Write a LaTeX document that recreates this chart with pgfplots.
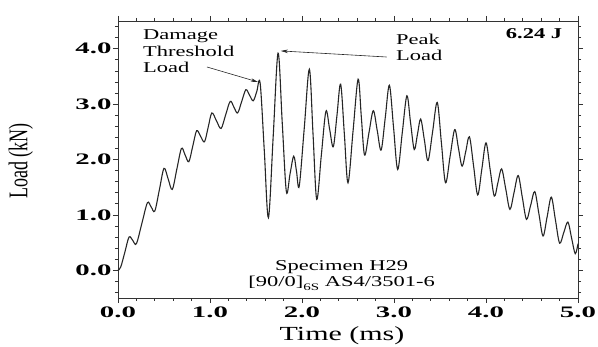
\documentclass[border=0pt]{standalone}
\usepackage{pgfplots}
\pgfplotsset{compat=1.18}
\usetikzlibrary{arrows.meta}
\usepackage{fontspec}
\setmainfont{Liberation Serif}
\newcommand{\sx}[1]{\scalebox{1.5}[1]{#1}}
\newcommand{\tk}[1]{\scalebox{1.8}[1]{\fontsize{16}{18}\selectfont\bfseries #1}}
\pgfplotstableread{
t L
0.00 0.00
0.03 0.06
0.075 0.33
0.12 0.60
0.16 0.54
0.20 0.48
0.26 0.85
0.32 1.22
0.36 1.145
0.40 1.07
0.45 1.455
0.50 1.84
0.545 1.65
0.59 1.46
0.64 1.83
0.69 2.20
0.73 2.08
0.77 1.96
0.8125 2.24
0.855 2.52
0.8975 2.42
0.94 2.32
0.98 2.58
1.02 2.84
1.07 2.70
1.12 2.56
1.17 2.805
1.22 3.05
1.26 2.945
1.30 2.84
1.345 3.05
1.39 3.26
1.43 3.16
1.47 3.06
1.5075 3.22
1.545 3.38
1.59 2.165
1.635 0.95
1.6875 2.435
1.74 3.92
1.785 2.67
1.83 1.42
1.87 1.74
1.91 2.06
1.94 1.79
1.97 1.52
2.025 2.575
2.08 3.63
2.12 2.455
2.16 1.28
2.21 2.075
2.26 2.87
2.30 2.55
2.34 2.23
2.38 2.795
2.42 3.36
2.46 2.47
2.50 1.58
2.555 2.515
2.61 3.45
2.645 2.765
2.68 2.08
2.7275 2.48
2.775 2.88
2.8175 2.525
2.86 2.17
2.905 2.755
2.95 3.34
2.995 2.58
3.04 1.82
3.09 2.485
3.14 3.15
3.18 2.665
3.22 2.18
3.255 2.455
3.29 2.73
3.33 2.355
3.37 1.98
3.42 2.505
3.47 3.03
3.515 2.305
3.56 1.58
3.61 2.06
3.66 2.54
3.70 2.21
3.74 1.88
3.78 2.145
3.82 2.41
3.865 1.885
3.91 1.36
3.955 1.83
4.00 2.30
4.045 1.82
4.09 1.34
4.13 1.585
4.17 1.83
4.215 1.465
4.26 1.10
4.305 1.405
4.35 1.71
4.395 1.315
4.44 0.92
4.485 1.17
4.53 1.42
4.575 1.02
4.62 0.62
4.665 0.97
4.71 1.32
4.755 0.905
4.80 0.49
4.845 0.68
4.89 0.87
4.93 0.585
4.97 0.30
5.00 0.48
}\loaddata
\begin{document}
\begin{tikzpicture}[x=1pt,y=1pt]
\useasboundingbox (0,0) rectangle (598,347);
\begin{axis}[
  at={(118pt,49pt)}, anchor=south west,
  scale only axis, width=460pt, height=277pt,
  xmin=0, xmax=5, ymin=-0.5, ymax=4.5,
  axis line style={black!80, line width=0.9pt},
  tick align=outside,
  major tick length=5pt, minor tick length=3pt,
  every tick/.style={black!80, line width=0.7pt},
  xtick={0,1,2,3,4,5},
  xticklabels={\tk{0.0},\tk{1.0},\tk{2.0},\tk{3.0},\tk{4.0},\tk{5.0}},
  minor x tick num=4,
  ytick={0,1,2,3,4},
  yticklabels={\tk{0.0},\tk{1.0},\tk{2.0},\tk{3.0},\tk{4.0}},
  yticklabel style={xshift=2pt},
  minor ytick={-0.4,-0.2,0.2,0.4,0.6,0.8,1.2,1.4,1.6,1.8,2.2,2.4,2.6,2.8,3.2,3.4,3.6,3.8,4.2,4.4},
  xlabel={\sx{\fontsize{20}{22}\selectfont Time (ms)}},
  xlabel style={at={(axis description cs:0.487,-0.135)}, anchor=center},
  ylabel={\scalebox{1}[1.5]{\fontsize{18}{20}\selectfont Load (kN)}},
  ylabel style={at={(axis description cs:-0.211,0.495)}, anchor=center, rotate=0},
  clip=false,
]
\addplot[black!85, line width=1.1pt, smooth, tension=0.55] table[x=t,y=L] {\loaddata};
\node[anchor=north west, align=left, inner sep=0pt, font=\fontsize{15}{16.5}\selectfont] at (axis cs:0.27,4.34) {\sx{Damage}\\\sx{Threshold}\\\sx{Load}};
\draw[black!85, line width=0.6pt, -{Stealth[length=7pt,width=3.5pt]}] (axis cs:0.967,3.67) -- (axis cs:1.52,3.40);
\node[anchor=north west, align=left, inner sep=0pt, font=\fontsize{15}{16.5}\selectfont] at (axis cs:3.02,4.27) {\sx{Peak}\\\sx{Load}};
\draw[black!85, line width=0.6pt, -{Stealth[length=7pt,width=3.5pt]}] (axis cs:2.92,3.85) -- (axis cs:1.77,3.96);
\node[anchor=north east, inner sep=0pt, font=\fontsize{15}{16.5}\selectfont\bfseries] at (axis cs:4.83,4.36) {\sx{6.24 J}};
\node[anchor=base, inner sep=0pt, font=\fontsize{15}{16.5}\selectfont] at (axis cs:2.43,0.0) {\sx{Specimen H29}};
\node[anchor=base, inner sep=0pt, font=\fontsize{15}{16.5}\selectfont] at (axis cs:2.43,-0.285) {\sx{[90/0]\raisebox{-4pt}{\fontsize{10}{10}\selectfont 6S} AS4/3501-6}};
\end{axis}
\end{tikzpicture}
\end{document}
